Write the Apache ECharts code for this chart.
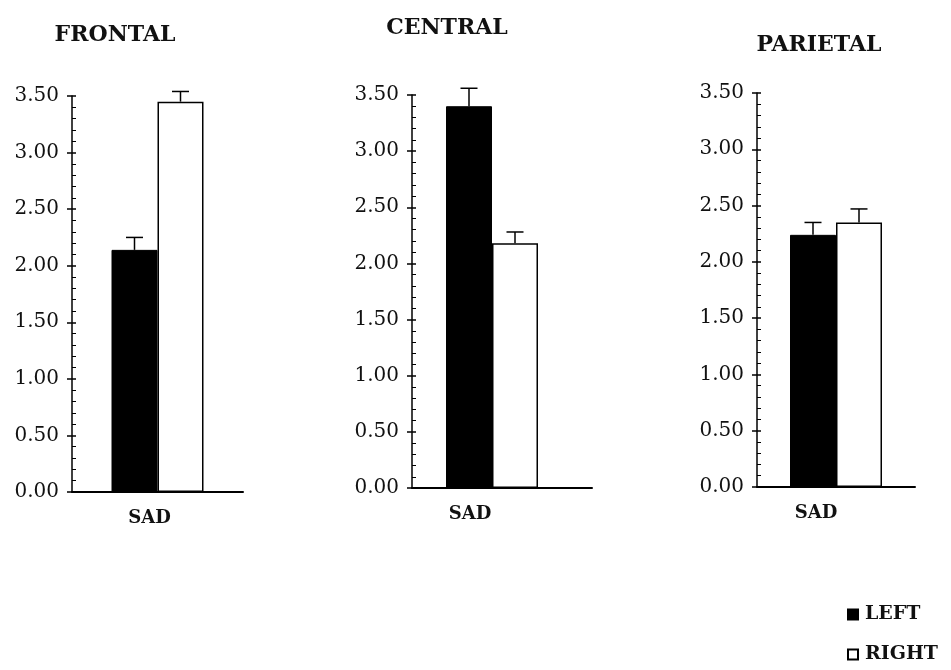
<!DOCTYPE html>
<html>
<head>
<meta charset="utf-8">
<script src="https://cdn.jsdelivr.net/npm/echarts@6/dist/echarts.min.js"></script>
<style>
  html, body { margin: 0; padding: 0; background: #fff; }
  #chart { width: 951px; height: 670px; }
</style>
</head>
<body>
<div id="chart"></div>
<script>
// Mean activation by hemisphere for the SAD condition, one panel per region
const regions = ['FRONTAL', 'CENTRAL', 'PARIETAL'];
const categories = ['SAD'];
const leftMeans = [2.14, 3.40, 2.24];
const rightMeans = [3.45, 2.18, 2.35];
const leftErrors = [0.11, 0.16, 0.11];
const rightErrors = [0.09, 0.10, 0.12];
const seriesNames = ['LEFT', 'RIGHT'];
const yMin = 0, yMax = 3.5, yStep = 0.5;

// Panel geometry (pixels)
const FONT = 'DejaVu Serif';
const INK = '#111';
const BAR_W = 46;
const panels = [
  { left: 72,  width: 171, top: 96, height: 396, spacer: 0,  labelShift: 16, titleX: 115, titleY: 24 },
  { left: 412, width: 180, top: 95, height: 393, spacer: 20, labelShift: 64, titleX: 447, titleY: 17 },
  { left: 757, width: 158, top: 93, height: 394, spacer: 0,  labelShift: 40, titleX: 819, titleY: 34 }
];

const chart = echarts.init(document.getElementById('chart'), null, { renderer: 'canvas' });

const grid = [], xAxis = [], yAxis = [], series = [], title = [];

panels.forEach((p, i) => {
  grid.push({ left: p.left, top: p.top, width: p.width, height: p.height, containLabel: false });

  title.push({
    text: regions[i], left: p.titleX, top: p.titleY, textAlign: 'center', padding: 0,
    textStyle: { fontFamily: FONT, fontSize: 22, fontWeight: 'bold', color: INK }
  });

  xAxis.push({
    type: 'category', gridIndex: i, data: categories,
    axisLine: { lineStyle: { color: '#000', width: 2 } },
    axisTick: { show: false },
    axisLabel: {
      margin: 17, fontFamily: FONT, fontSize: 18, fontWeight: 'bold', color: INK,
      padding: [0, p.labelShift, 0, 0]
    }
  });

  // main value axis: line, labels, inner ticks and minor ticks
  yAxis.push({
    type: 'value', gridIndex: i, position: 'left', min: yMin, max: yMax, interval: yStep,
    axisLine: { show: true, lineStyle: { color: '#000', width: 1.5 } },
    axisTick: { show: true, inside: true, length: 4, lineStyle: { color: '#000', width: 1.5 } },
    minorTick: { show: true, splitNumber: 5, length: 4, lineStyle: { color: '#000', width: 1 } },
    splitLine: { show: false },
    axisLabel: {
      margin: 13, fontFamily: FONT, fontSize: 20, color: INK,
      formatter: v => v.toFixed(2)
    }
  });
  // companion axis carrying the outer half of the major ticks
  yAxis.push({
    type: 'value', gridIndex: i, position: 'left', offset: 0, min: yMin, max: yMax, interval: yStep,
    axisLine: { show: false },
    axisTick: { show: true, inside: false, length: 5, lineStyle: { color: '#000', width: 1.5 } },
    splitLine: { show: false },
    axisLabel: { show: false }
  });

  const yIdx = i * 2;
  series.push({
    name: seriesNames[0], type: 'bar', xAxisIndex: i, yAxisIndex: yIdx,
    data: [leftMeans[i]], barWidth: BAR_W, barGap: '0%',
    itemStyle: { color: '#000', borderColor: '#000', borderWidth: 1 },
    silent: true, animation: false
  });
  series.push({
    name: seriesNames[1], type: 'bar', xAxisIndex: i, yAxisIndex: yIdx,
    data: [rightMeans[i]], barWidth: BAR_W, barGap: '0%',
    itemStyle: { color: '#fff', borderColor: '#000', borderWidth: 1.5 },
    silent: true, animation: false
  });
  if (p.spacer) {
    series.push({
      name: 'gap', type: 'bar', xAxisIndex: i, yAxisIndex: yIdx,
      data: [0], barWidth: p.spacer, barGap: '0%',
      itemStyle: { color: 'rgba(0,0,0,0)', borderWidth: 0 },
      silent: true, animation: false
    });
  }

  // bar centres relative to the category centre
  const groupW = 2 * BAR_W + p.spacer;
  const centres = [-groupW / 2 + BAR_W / 2, -groupW / 2 + BAR_W * 1.5];

  series.push({
    type: 'custom', xAxisIndex: i, yAxisIndex: yIdx, silent: true, animation: false,
    data: [
      [0, leftMeans[i], leftErrors[i], 0],
      [0, rightMeans[i], rightErrors[i], 1]
    ],
    encode: { x: 0, y: 1 },
    renderItem: (params, api) => {
      const base = api.coord([api.value(0), api.value(1)]);
      const top = api.coord([api.value(0), api.value(1) + api.value(2)]);
      const cx = base[0] + centres[api.value(3)];
      const cap = 8.5;
      const style = { stroke: '#000', lineWidth: 1.5, fill: null };
      return {
        type: 'group',
        children: [
          { type: 'line', shape: { x1: cx, y1: base[1], x2: cx, y2: top[1] }, style },
          { type: 'line', shape: { x1: cx - cap, y1: top[1], x2: cx + cap, y2: top[1] }, style }
        ]
      };
    }
  });
});

chart.setOption({
  animation: false,
  backgroundColor: '#fff',
  title,
  grid,
  xAxis,
  yAxis,
  series,
  legend: {
    data: seriesNames,
    orient: 'vertical',
    left: 842, top: 600,
    itemWidth: 10, itemHeight: 10, itemGap: 21,
    icon: 'rect',
    textStyle: { fontFamily: FONT, fontSize: 19, fontWeight: 'bold', color: INK, padding: [0, 0, 0, 2] }
  }
});
</script>
</body>
</html>
